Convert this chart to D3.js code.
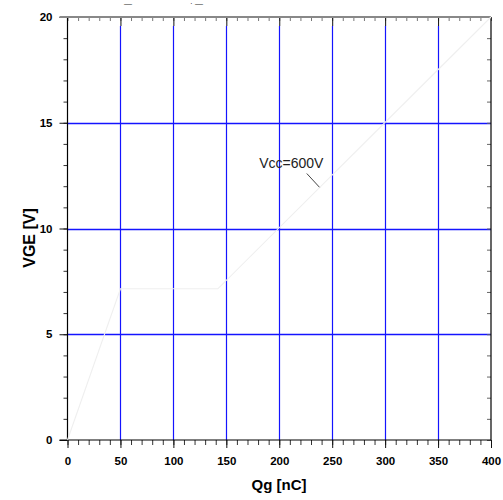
<!DOCTYPE html>
<html><head><meta charset="utf-8">
<script src="https://cdn.jsdelivr.net/npm/d3@7"></script>
<style>body{margin:0;background:#fff}svg{display:block}</style>
</head><body>
<svg id="c" width="503" height="500"></svg>
<script>
// data
const qgValues = [0, 50, 142, 400];
const vgeValues = [0, 7.15, 7.15, 20];
const xTicks = [0, 50, 100, 150, 200, 250, 300, 350, 400];
const yTicks = [0, 5, 10, 15, 20];
const xLabel = "Qg [nC]";
const yLabel = "VGE [V]";
const annotation = "Vcc=600V";

(function () {
const svg = d3.select("#c");
const x = d3.scaleLinear().domain([0, 400]).range([67.5, 491]);
const y = d3.scaleLinear().domain([0, 20]).range([440, 17]);
const font = "'Liberation Sans', Arial, sans-serif";

// grid
svg.append("g").selectAll("line").data(xTicks.slice(1, -1)).join("line")
  .attr("x1", d => Math.round(x(d)) + 0.5).attr("x2", d => Math.round(x(d)) + 0.5)
  .attr("y1", y(20) + 9).attr("y2", y(0))
  .attr("stroke", "#1414ff").attr("stroke-width", 1.2);
svg.append("g").selectAll("line").data(yTicks.slice(1, -1)).join("line")
  .attr("x1", x(0)).attr("x2", x(400))
  .attr("y1", d => Math.round(y(d)) + 0.5).attr("y2", d => Math.round(y(d)) + 0.5)
  .attr("stroke", "#1414ff").attr("stroke-width", 1.3);

// bottom axis
const xMinor = d3.range(0, 401, 10);
const axB = svg.append("g").attr("transform", `translate(0,${y(0)})`)
  .call(d3.axisBottom(x).tickValues(xMinor).tickSize(5).tickFormat(""));
axB.select(".domain").remove();
axB.selectAll("line").attr("stroke", "#333");
const axBMaj = svg.append("g").attr("transform", `translate(0,${y(0)})`)
  .call(d3.axisBottom(x).tickValues(xTicks).tickSize(8).tickPadding(9).tickFormat(d3.format("d")));
axBMaj.select(".domain").remove();
axBMaj.selectAll("line").attr("stroke", "#111");
axBMaj.selectAll("text").attr("font-family", font).attr("font-weight", "bold")
  .attr("font-size", 11.5).attr("fill", "#000");

// top axis (ticks inward)
const axT = svg.append("g").attr("transform", `translate(0,${y(20)})`)
  .call(d3.axisBottom(x).tickValues(xMinor).tickSize(4).tickFormat(""));
axT.select(".domain").remove();
axT.selectAll("line").attr("stroke", "#777");
const axTMaj = svg.append("g").attr("transform", `translate(0,${y(20)})`)
  .call(d3.axisBottom(x).tickValues(xTicks.slice(1, -1)).tickSize(9).tickFormat(""));
axTMaj.select(".domain").remove();
axTMaj.selectAll("line").attr("stroke", "#111");

// left axis
const yMinor = d3.range(0, 21, 1);
const axL = svg.append("g").attr("transform", `translate(${x(0)},0)`)
  .call(d3.axisLeft(y).tickValues(yMinor).tickSize(4).tickFormat(""));
axL.select(".domain").remove();
axL.selectAll("line").attr("stroke", "#333");
const axLMaj = svg.append("g").attr("transform", `translate(${x(0)},0)`)
  .call(d3.axisLeft(y).tickValues(yTicks).tickSize(8).tickPadding(7).tickFormat(d3.format("d")));
axLMaj.select(".domain").remove();
axLMaj.selectAll("line").attr("stroke", "#111");
axLMaj.selectAll("text").attr("font-family", font).attr("font-weight", "bold")
  .attr("font-size", 11.5).attr("fill", "#000");

// right axis (ticks inward)
const axR = svg.append("g").attr("transform", `translate(${x(400)},0)`)
  .call(d3.axisLeft(y).tickValues(yMinor).tickSize(4).tickFormat(""));
axR.select(".domain").remove();
axR.selectAll("line").attr("stroke", "#666");

// frame
svg.append("line").attr("x1", x(0)).attr("x2", x(0)).attr("y1", y(20)).attr("y2", y(0)).attr("stroke", "#000").attr("stroke-width", 1.2);
svg.append("line").attr("x1", x(400)).attr("x2", x(400)).attr("y1", y(20)).attr("y2", y(0)).attr("stroke", "#000").attr("stroke-width", 1.2);
svg.append("line").attr("x1", x(0) - 8).attr("x2", x(400)).attr("y1", y(0)).attr("y2", y(0)).attr("stroke", "#000").attr("stroke-width", 1.2);
svg.append("line").attr("x1", x(0) - 8).attr("x2", x(400)).attr("y1", y(20)).attr("y2", y(20)).attr("stroke", "#888").attr("stroke-width", 2);

// curve
svg.append("path")
  .datum(qgValues.map((q, i) => [q, vgeValues[i]]))
  .attr("d", d3.line().x(d => x(d[0])).y(d => y(d[1])))
  .attr("fill", "none").attr("stroke", "#efefef").attr("stroke-width", 1.1);

// annotation
svg.append("text").attr("x", x(181)).attr("y", y(12.85))
  .attr("font-family", font).attr("font-size", 14).attr("fill", "#222").text(annotation);
svg.append("line").attr("x1", x(226)).attr("y1", y(12.6)).attr("x2", x(238)).attr("y2", y(11.95))
  .attr("stroke", "#444").attr("stroke-width", 1);

// clipped title fragments at top
svg.append("text").attr("x", 124).attr("y", 6).attr("font-family", font).attr("font-size", 8).attr("fill", "#222").text("—");
svg.append("text").attr("x", 190).attr("y", 6).attr("font-family", font).attr("font-size", 8).attr("fill", "#222").text("· —");

// axis labels
svg.append("text").attr("x", 279).attr("y", 490).attr("text-anchor", "middle")
  .attr("font-family", font).attr("font-weight", "bold").attr("font-size", 15).text(xLabel);
svg.append("text").attr("transform", "translate(35,238) rotate(-90)").attr("text-anchor", "middle")
  .attr("font-family", font).attr("font-weight", "bold").attr("font-size", 16).text(yLabel);
})();
</script>
</body></html>
